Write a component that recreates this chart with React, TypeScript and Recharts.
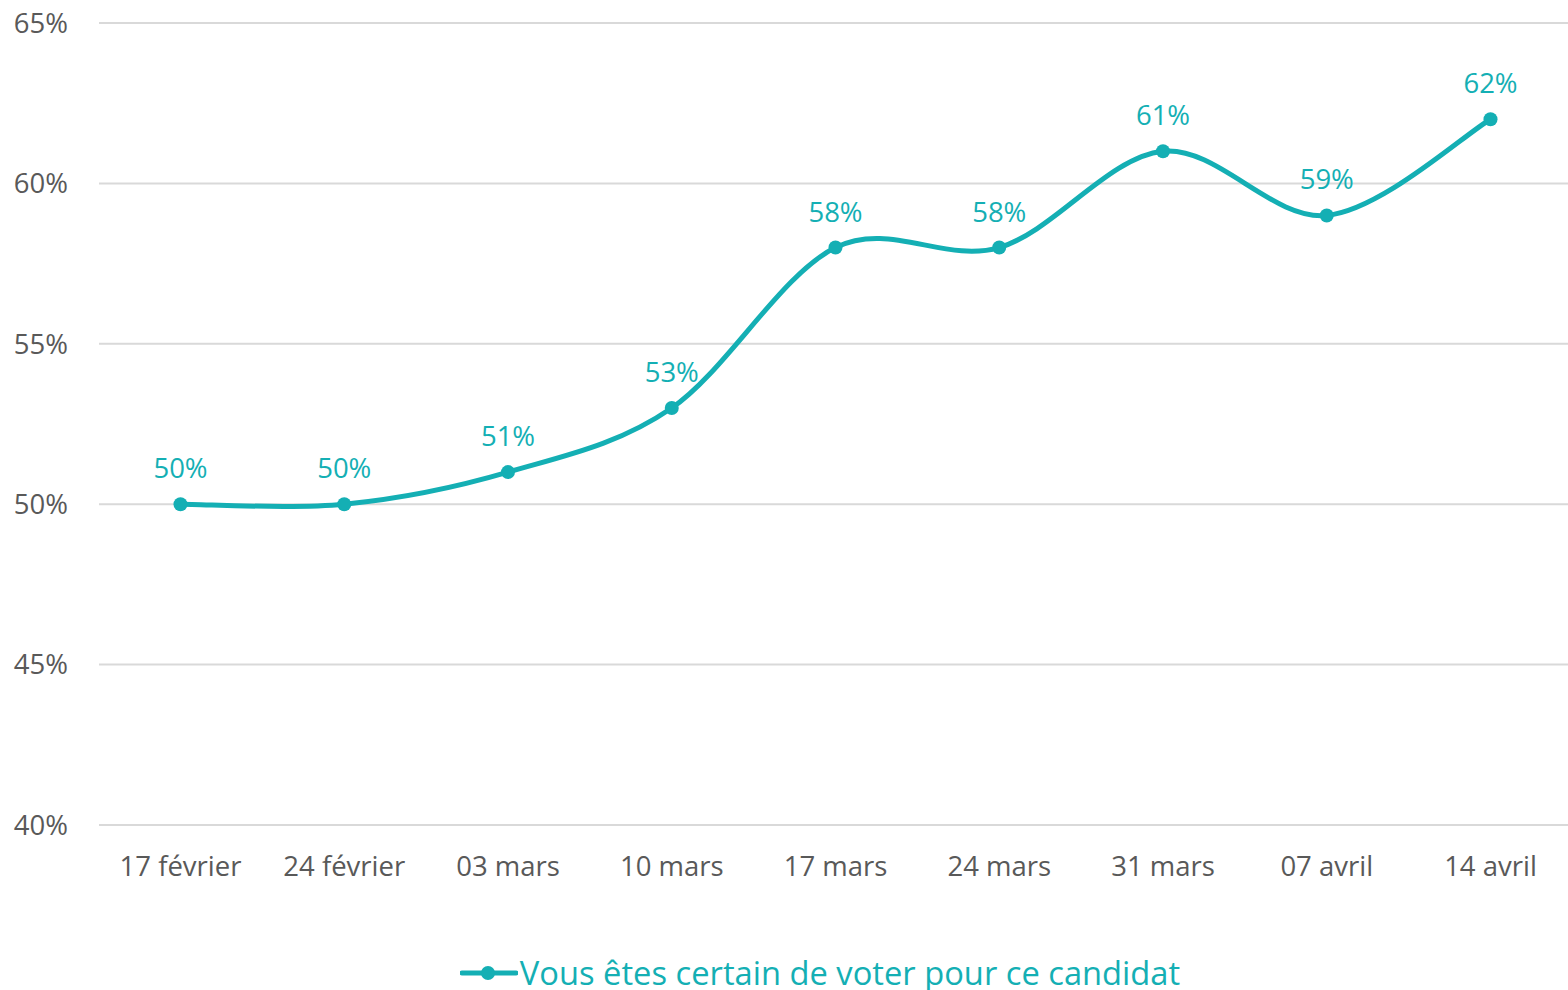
import React from 'react';
import { LineChart, Line, XAxis, YAxis, CartesianGrid, LabelList, Legend } from 'recharts';

const categories = ['17 février', '24 février', '03 mars', '10 mars', '17 mars', '24 mars', '31 mars', '07 avril', '14 avril'];
const certainValues = [50, 50, 51, 53, 58, 58, 61, 59, 62];
const yTicks = [40, 45, 50, 55, 60, 65];
const seriesName = 'Vous êtes certain de voter pour ce candidat';

const data = categories.map((c, i) => ({ cat: c, v: certainValues[i] }));

const TEAL = '#14AFB4';
const FONT = '"Open Sans", sans-serif';

function smoothCurve(context: any) {
  let pts: number[][] = [];
  return {
    areaStart() {},
    areaEnd() {},
    lineStart() {
      pts = [];
    },
    point(x: number, y: number) {
      pts.push([+x, +y]);
    },
    lineEnd() {
      const n = pts.length;
      if (!n) return;
      context.moveTo(pts[0][0], pts[0][1]);
      const t = 1 / 6;
      for (let i = 0; i < n - 1; i++) {
        const p0 = pts[i - 1] || pts[i];
        const p1 = pts[i];
        const p2 = pts[i + 1];
        const p3 = pts[i + 2] || p2;
        const c1x = p1[0] + (p2[0] - p0[0]) * t;
        const c1y = p1[1] + (p2[1] - p0[1]) * t;
        const c2x = p2[0] - (p3[0] - p1[0]) * t;
        const c2y = p2[1] - (p3[1] - p1[1]) * t;
        context.bezierCurveTo(c1x, c1y, c2x, c2y, p2[0], p2[1]);
      }
    },
  };
}

const renderLegend = () => (
  <div
    style={{
      display: 'flex',
      justifyContent: 'center',
      alignItems: 'center',
      fontFamily: FONT,
      height: 46,
      paddingTop: 6,
      marginLeft: 72,
    }}
  >
    <svg width={58} height={20} style={{ marginRight: 2 }}>
      <line x1={2} y1={10} x2={56} y2={10} stroke={TEAL} strokeWidth={5} strokeLinecap="round" />
      <circle cx={28} cy={10} r={7} fill={TEAL} />
    </svg>
    <span style={{ color: TEAL, fontSize: 32.7, lineHeight: '46px' }}>{seriesName}</span>
  </div>
);

export default function App() {
  return (
    <div style={{ position: 'absolute', left: 0, top: 0, width: 1568, height: 990, background: '#fff', overflow: 'hidden' }}>
      <LineChart width={1568} height={990} data={data} margin={{ top: 23, right: 0, bottom: 0, left: 0 }}>
        <CartesianGrid horizontal vertical={false} stroke="#D9D9D9" strokeWidth={2} />
        <XAxis
          dataKey="cat"
          axisLine={false}
          tickLine={false}
          tickSize={0}
          tickMargin={31}
          height={119}
          interval={0}
          padding={{ left: 81.5, right: 77.5 }}
          tick={{ fill: '#595959', fontSize: 27.5, fontFamily: FONT }}
        />
        <YAxis
          domain={[40, 65]}
          ticks={yTicks}
          width={99}
          axisLine={false}
          tickLine={false}
          tickSize={0}
          tickMargin={31}
          tickFormatter={(v: number) => `${v}%`}
          tick={{ fill: '#595959', fontSize: 27.5, fontFamily: FONT }}
        />
        <Legend verticalAlign="bottom" height={46} content={renderLegend} />
        <Line
          dataKey="v"
          name={seriesName}
          type={smoothCurve as any}
          stroke={TEAL}
          strokeWidth={5}
          dot={{ r: 7, fill: TEAL, stroke: TEAL, strokeWidth: 0 }}
          activeDot={false}
          isAnimationActive={false}
        >
          <LabelList
            dataKey="v"
            position="top"
            offset={26}
            formatter={(v: any) => `${v}%`}
            style={{ fill: TEAL, fontSize: 27.5, fontFamily: FONT }}
          />
        </Line>
      </LineChart>
    </div>
  );
}
